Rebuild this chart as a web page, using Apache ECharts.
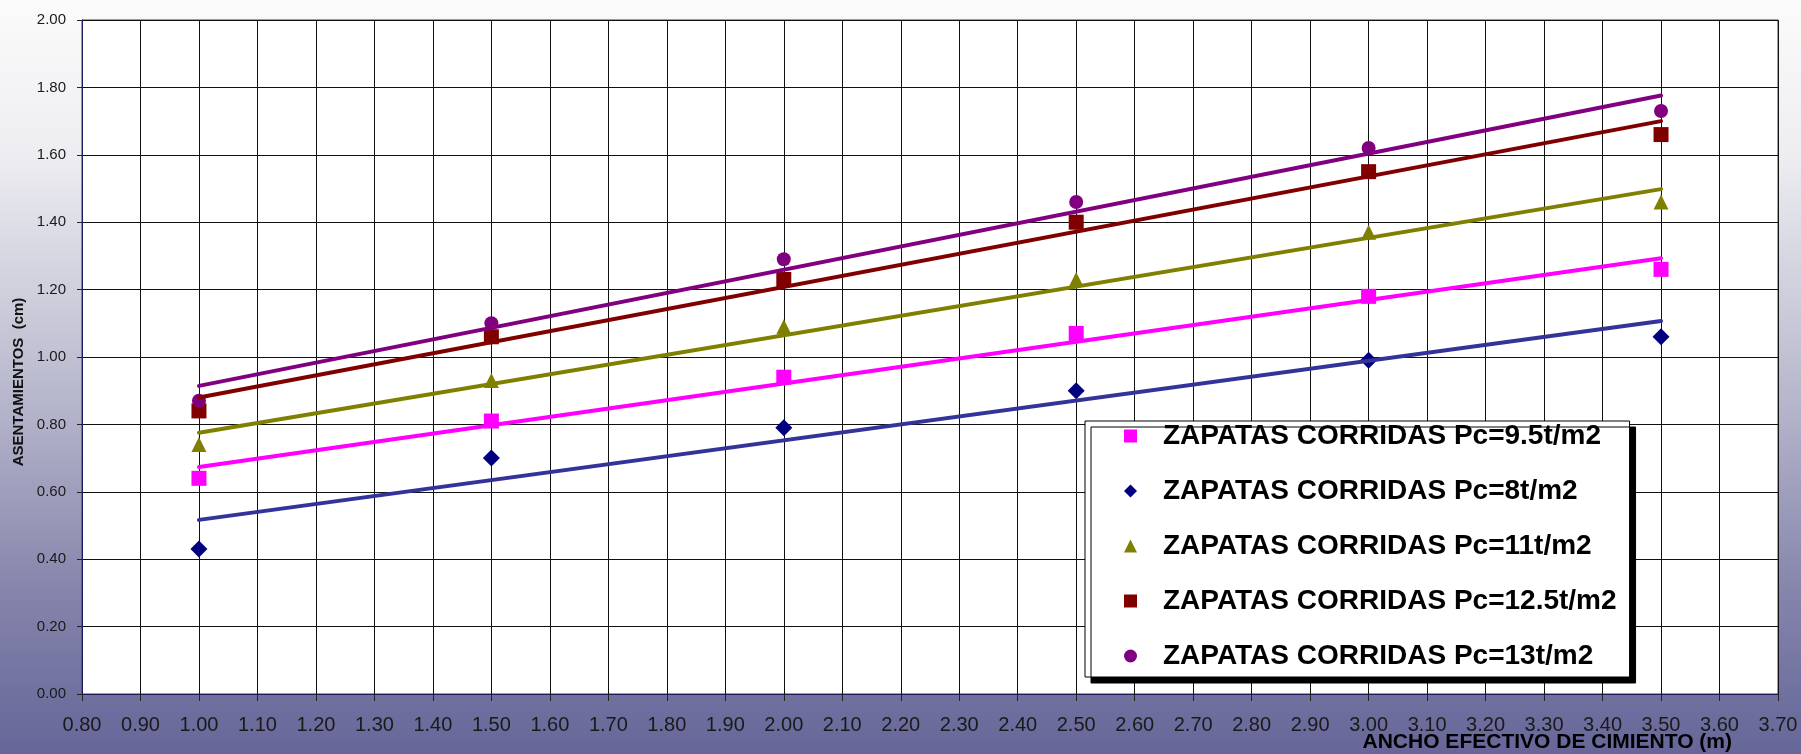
<!DOCTYPE html>
<html>
<head>
<meta charset="utf-8">
<title>Asentamientos - Zapatas corridas</title>
<script src="https://cdn.jsdelivr.net/npm/echarts@6/dist/echarts.min.js"></script>
<style>
  html, body { margin: 0; padding: 0; }
  #chart { width: 1801px; height: 754px; }
</style>
</head>
<body>
<div id="chart"></div>
<script>
// Ancho efectivo de cimiento (m)
const widths = [1.0, 1.5, 2.0, 2.5, 3.0, 3.5];

// Asentamientos (cm) por presión de contacto
const pc95  = [0.64, 0.81, 0.94, 1.07, 1.18, 1.26];
const pc8   = [0.43, 0.70, 0.79, 0.90, 0.99, 1.06];
const pc11  = [0.74, 0.93, 1.09, 1.23, 1.37, 1.46];
const pc125 = [0.84, 1.06, 1.23, 1.40, 1.55, 1.66];
const pc13  = [0.87, 1.10, 1.29, 1.46, 1.62, 1.73];

const seriesNames = [
  'ZAPATAS CORRIDAS Pc=9.5t/m2',
  'ZAPATAS CORRIDAS Pc=8t/m2',
  'ZAPATAS CORRIDAS Pc=11t/m2',
  'ZAPATAS CORRIDAS Pc=12.5t/m2',
  'ZAPATAS CORRIDAS Pc=13t/m2'
];
const seriesValues = [pc95, pc8, pc11, pc125, pc13];
const markerShapes = ['rect', 'diamond', 'triangle', 'rect', 'circle'];
const markerSizes  = [15, 17, 15, 15, 14];
const markerColors = ['#ff00ff', '#000080', '#808000', '#800000', '#800080'];
const trendColors  = ['#ff00ff', '#333399', '#808000', '#800000', '#800080'];

const FONT = '"Liberation Sans", Arial, Helvetica, sans-serif';

// Least-squares linear trend of one series, evaluated at the first and last width
function trendLine(xs, ys) {
  const n = xs.length;
  const mx = xs.reduce((a, b) => a + b, 0) / n;
  const my = ys.reduce((a, b) => a + b, 0) / n;
  let sxy = 0, sxx = 0;
  for (let i = 0; i < n; i++) {
    sxy += (xs[i] - mx) * (ys[i] - my);
    sxx += (xs[i] - mx) * (xs[i] - mx);
  }
  const slope = sxy / sxx;
  const icpt = my - slope * mx;
  const x0 = xs[0], x1 = xs[n - 1];
  return [[x0, icpt + slope * x0], [x1, icpt + slope * x1]];
}

const scatterSeries = seriesNames.map((name, i) => ({
  name: name,
  type: 'scatter',
  data: widths.map((w, j) => [w, seriesValues[i][j]]),
  symbol: markerShapes[i],
  symbolSize: markerSizes[i],
  itemStyle: { color: markerColors[i], opacity: 1 },
  z: 2
}));

const trendSeries = seriesNames.map((name, i) => ({
  name: 'Tendencia ' + name,
  type: 'line',
  data: trendLine(widths, seriesValues[i]),
  symbol: 'none',
  silent: true,
  lineStyle: { color: trendColors[i], width: 4, cap: 'round' },
  z: 3
}));

const chart = echarts.init(document.getElementById('chart'), null, { renderer: 'canvas' });

chart.setOption({
  animation: false,
  backgroundColor: {
    type: 'linear', x: 0, y: 0, x2: 0, y2: 1,
    colorStops: [
      { offset: 0, color: '#fbfbfb' },
      { offset: 0.2, color: '#eeeef2' },
      { offset: 0.5, color: '#bcbcd0' },
      { offset: 0.8, color: '#8282aa' },
      { offset: 1, color: '#666699' }
    ]
  },
  title: {
    text: 'ANCHO EFECTIVO DE CIMIENTO (m)',
    right: 69,
    top: 732,
    padding: 0,
    textStyle: { fontFamily: FONT, fontSize: 21, fontWeight: 'bold', color: '#000' }
  },
  grid: {
    left: 82, top: 20, right: 23, bottom: 60,
    show: true,
    backgroundColor: '#ffffff',
    borderColor: '#3333aa',
    borderWidth: 1
  },
  legend: {
    data: seriesNames,
    orient: 'vertical',
    left: 1085,
    top: 421,
    padding: [1, 13, 7, 39],
    itemWidth: 13,
    itemHeight: 13,
    itemGap: 27,
    backgroundColor: '#ffffff',
    borderColor: '#000',
    borderWidth: 1,
    shadowColor: '#000',
    shadowBlur: 0,
    shadowOffsetX: 6,
    shadowOffsetY: 6,
    textStyle: {
      fontFamily: FONT, fontSize: 28, fontWeight: 'bold', color: '#000',
      lineHeight: 28, padding: [0, 0, 0, 21]
    }
  },
  xAxis: {
    type: 'value',
    min: 0.8,
    max: 3.7,
    interval: 0.1,
    axisLine: { show: true, onZero: false, lineStyle: { color: '#1c1c5c', width: 1 } },
    axisTick: { show: true, length: 7, lineStyle: { color: '#222' } },
    axisLabel: {
      fontFamily: FONT, fontSize: 20, color: '#1a1a1a', margin: 21,
      formatter: v => v.toFixed(2)
    },
    splitLine: { show: true, lineStyle: { color: '#111', width: 1 } }
  },
  yAxis: {
    type: 'value',
    min: 0,
    max: 2,
    interval: 0.2,
    name: 'ASENTAMIENTOS  (cm)',
    nameLocation: 'middle',
    nameRotate: 90,
    nameGap: 53,
    nameTextStyle: { fontFamily: FONT, fontSize: 15, fontWeight: 'bold', color: '#111', padding: [0, 50, 0, 0] },
    axisLine: { show: true, lineStyle: { color: '#1c1c5c', width: 1 } },
    axisTick: { show: true, length: 5, lineStyle: { color: '#222' } },
    axisLabel: {
      fontFamily: FONT, fontSize: 15, color: '#1a1a1a', margin: 16,
      formatter: v => v.toFixed(2)
    },
    splitLine: { show: true, lineStyle: { color: '#111', width: 1 } }
  },
  series: scatterSeries.concat(trendSeries)
});
</script>
</body>
</html>
